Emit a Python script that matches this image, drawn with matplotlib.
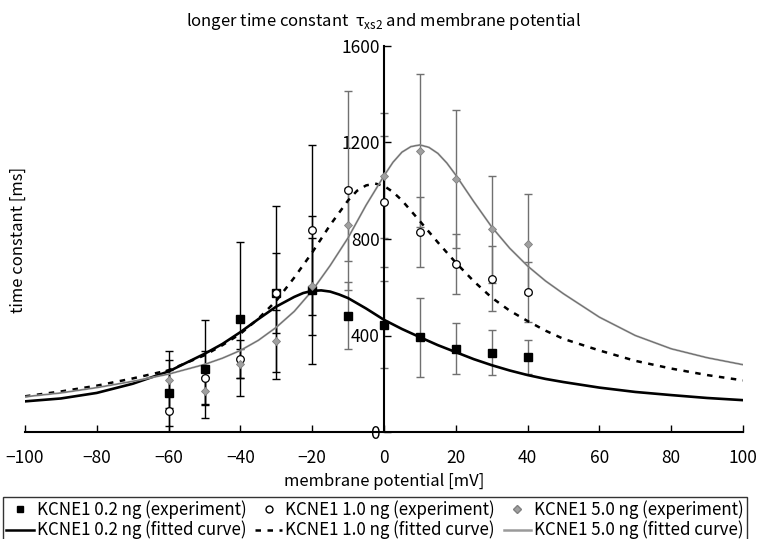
import matplotlib
matplotlib.use("Agg")
import matplotlib.pyplot as plt
from matplotlib.lines import Line2D
import numpy as np

plt.rcParams['font.family'] = ['Noto Sans CJK JP', 'DejaVu Sans']
plt.rcParams['mathtext.fontset'] = 'custom'
plt.rcParams['mathtext.rm'] = 'Noto Sans CJK JP'

# experimental points (membrane potential [mV] -> time constant [ms])
v_exp = [-60, -50, -40, -30, -20, -10, 0, 10, 20, 30, 40]
tau_02 = [160, 261, 469, 577, 590, 482, 445, 393, 345, 329, 311]
sd_02 = [137, 203, 319, 358, 307, 140, 181, 163, 106, 94, 71]
tau_10 = [88, 223, 301, 577, 838, 1002, 955, 829, 698, 636, 579]
sd_10 = [168, 112, 79, 167, 352, 412, 270, 144, 124, 133, 124]
tau_50 = [217, 172, 283, 377, 605, 860, 1062, 1166, 1049, 840, 781]
sd_50 = [118, 55, 60, 127, 201, 150, 259, 316, 286, 223, 207]

# fitted curves
v_fit_02 = [-100, -90, -80, -70, -60, -50, -45, -40, -35, -30, -25, -22.5, -20, -17.5, -15,
            -12.5, -10, -5, 0, 5, 10, 15, 20, 25, 30, 35, 40, 45, 50, 60, 70, 80, 90, 100]
fit_02 = [127, 139, 162, 200, 251, 324, 365, 414, 468, 520, 560, 576, 585, 587, 582,
          570, 555, 512, 465, 427, 393, 360, 331, 302, 277, 255, 236, 220, 207, 184, 166, 153, 141, 132]
v_fit_10 = [-100, -90, -80, -70, -60, -50, -45, -40, -35, -30, -25, -20, -15, -10, -7.5, -5,
            -2.5, 0, 2.5, 5, 10, 15, 20, 25, 30, 35, 40, 45, 50, 60, 70, 80, 90, 100]
fit_10 = [148, 168, 192, 222, 256, 318, 360, 407, 470, 544, 640, 744, 858, 960, 1000, 1022,
          1030, 1020, 995, 960, 874, 786, 702, 625, 557, 503, 460, 420, 386, 338, 295, 263, 236, 214]
v_fit_50 = [-100, -90, -80, -70, -60, -50, -45, -40, -35, -30, -25, -20, -15, -10, -5, 0, 2.5,
            5, 7.5, 10, 12.5, 15, 17.5, 20, 25, 30, 35, 40, 45, 50, 60, 70, 80, 90, 100]
fit_50 = [146, 162, 184, 210, 240, 280, 306, 338, 380, 434, 500, 586, 690, 805, 940, 1062, 1118,
          1160, 1183, 1190, 1180, 1155, 1115, 1065, 955, 850, 762, 688, 626, 573, 476, 400, 345, 308, 279]

fig = plt.figure(figsize=(7.63, 5.39), dpi=100)
ax = fig.add_axes([25 / 763, 1 - 432 / 539, 718 / 763, 386 / 539])

# fitted curves
ax.plot(v_fit_02, fit_02, color="black", lw=1.9, zorder=3)
ax.plot(v_fit_10, fit_10, color="black", lw=1.8, ls=(0, (2.2, 2.6)), zorder=3)
ax.plot(v_fit_50, fit_50, color="#9a9a9a", lw=1.4, zorder=3)
ax.plot(v_fit_50, fit_50, color="#444444", lw=0.3, zorder=3)

# error bars: black on the left part, grey on the right part
v = np.array(v_exp)
left = v < -15
for tau, sd in [(tau_02, sd_02), (tau_10, sd_10), (tau_50, sd_50)]:
    tau = np.array(tau)
    sd = np.array(sd)
    for mask, col in [(left, "black"), (~left, "#707070")]:
        ax.errorbar(v[mask], tau[mask], yerr=sd[mask], fmt="none", ecolor=col,
                    elinewidth=1.0, capsize=2.8, capthick=1.0, zorder=2)

# markers
ax.plot(v_exp, tau_02, ls="none", marker="s", ms=5.5, mfc="black", mec="black", zorder=5)
ax.plot(v_exp, tau_10, ls="none", marker="o", ms=5.5, mfc="white", mec="black", mew=0.9, zorder=5)
ax.plot(v_exp, tau_50, ls="none", marker="D", ms=4, mfc="#a0a0a0", mec="#808080", mew=0.6, zorder=5)

ax.set_xlim(-100, 100)
ax.set_ylim(0, 1600)
ax.set_xticks(range(-100, 101, 20))
ax.set_yticks(range(0, 1601, 400))
ax.spines["left"].set_position(("data", 0))
ax.spines["top"].set_visible(False)
ax.spines["right"].set_visible(False)
ax.spines["left"].set_linewidth(1.5)
ax.spines["bottom"].set_linewidth(1.5)
ax.tick_params(axis="x", direction="in", length=5, width=1, labelsize=12.5, pad=12)
ax.tick_params(axis="y", direction="in", length=5, width=1, labelsize=12.5, pad=3)
ax.set_xticklabels(["\u2212100", "\u221280", "\u221260", "\u221240", "\u221220",
                    "0", "20", "40", "60", "80", "100"])
ax.patch.set_alpha(0)

fig.text(384 / 763, 1 - 22 / 539, "longer time constant  \u03c4$_{\\rm xs2}$ and membrane potential",
         ha="center", va="center", fontsize=12)
fig.text(384 / 763, 1 - 481 / 539, "membrane potential [mV]", ha="center", va="center", fontsize=12)
fig.text(18 / 763, 1 - 240 / 539, "time constant [ms]", ha="center", va="center",
         rotation=90, fontsize=12)

handles = [
    Line2D([], [], ls="none", marker="s", ms=5, mfc="black", mec="black"),
    Line2D([], [], color="black", lw=1.8),
    Line2D([], [], ls="none", marker="o", ms=5, mfc="white", mec="black"),
    Line2D([], [], color="black", lw=1.8, ls=(0, (2.2, 2.6))),
    Line2D([], [], ls="none", marker="D", ms=4, mfc="#a0a0a0", mec="#808080"),
    Line2D([], [], color="#9a9a9a", lw=1.8),
]
labels = [
    "KCNE1 0.2 ng (experiment)", "KCNE1 0.2 ng (fitted curve)",
    "KCNE1 1.0 ng (experiment)", "KCNE1 1.0 ng (fitted curve)",
    "KCNE1 5.0 ng (experiment)", "KCNE1 5.0 ng (fitted curve)",
]
leg = fig.legend(handles, labels, loc="upper left", bbox_to_anchor=(3 / 763, 1 - 497 / 539),
                 ncol=3, fontsize=12.2, frameon=True, fancybox=False, edgecolor="black",
                 handlelength=1.6, handletextpad=0.2, columnspacing=0.5,
                 borderpad=0.2, labelspacing=0.1, borderaxespad=0)
leg.get_frame().set_linewidth(1.0)

fig.savefig("out.png", dpi=100)
